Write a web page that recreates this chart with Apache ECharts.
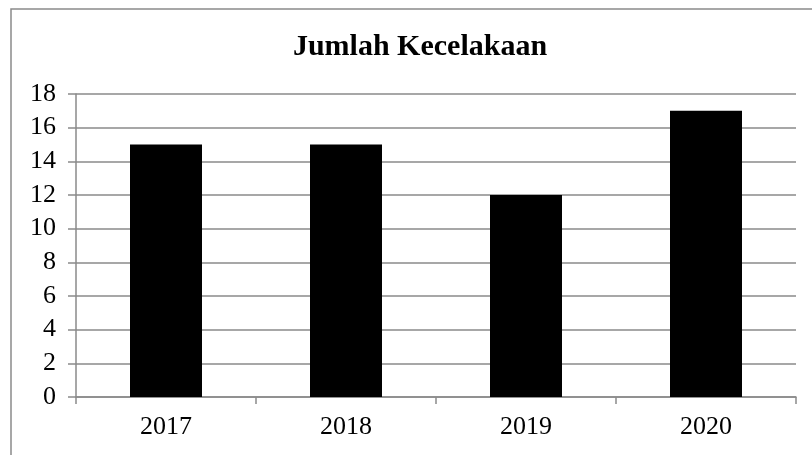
<!DOCTYPE html>
<html>
<head>
<meta charset="utf-8">
<script src="https://cdn.jsdelivr.net/npm/echarts@6/dist/echarts.min.js"></script>
<style>
  html, body { margin: 0; padding: 0; background: #fff; }
  #chart { width: 812px; height: 455px; }
</style>
</head>
<body>
<div id="chart"></div>
<script>
var titleText = 'Jumlah Kecelakaan'
var years = ['2017', '2018', '2019', '2020']
var accidents = [15, 15, 12, 17]

var chart = echarts.init(document.getElementById('chart'), null, { renderer: 'canvas' })
var serif = '"Liberation Serif", "Times New Roman", serif'
var lineGrey = '#8a8a8a'

chart.setOption({
  animation: false,
  backgroundColor: '#fff',
  textStyle: { fontFamily: serif },
  // outer frame (only top and left visible in the crop)
  graphic: [{
    type: 'rect',
    shape: { x: 11, y: 9, width: 900, height: 600 },
    style: { fill: 'none', stroke: lineGrey, lineWidth: 1.5 },
    z: -1
  }],
  title: {
    text: titleText,
    left: 415,
    top: 27,
    textAlign: 'center',
    textStyle: { fontFamily: serif, fontWeight: 'bold', fontSize: 30, color: '#000' }
  },
  grid: { left: 76, right: 16, top: 94, bottom: 58, containLabel: false },
  xAxis: {
    type: 'category',
    data: years,
    axisLine: { lineStyle: { color: lineGrey, width: 1.5 } },
    axisTick: { show: true, length: 7, lineStyle: { color: lineGrey, width: 1.5 } },
    axisLabel: { color: '#000', fontSize: 26, fontFamily: serif, margin: 17 }
  },
  yAxis: {
    type: 'value',
    min: 0,
    max: 18,
    interval: 2,
    axisLine: { show: true, lineStyle: { color: lineGrey, width: 1.5 } },
    axisTick: { show: true, length: 8, lineStyle: { color: lineGrey, width: 1.5 } },
    splitLine: { lineStyle: { color: lineGrey, width: 1.5 } },
    axisLabel: { color: '#000', fontSize: 26, fontFamily: serif, margin: 20 }
  },
  series: [{
    type: 'bar',
    data: accidents,
    barWidth: '40%',
    itemStyle: { color: '#000' }
  }]
})
</script>
</body>
</html>
